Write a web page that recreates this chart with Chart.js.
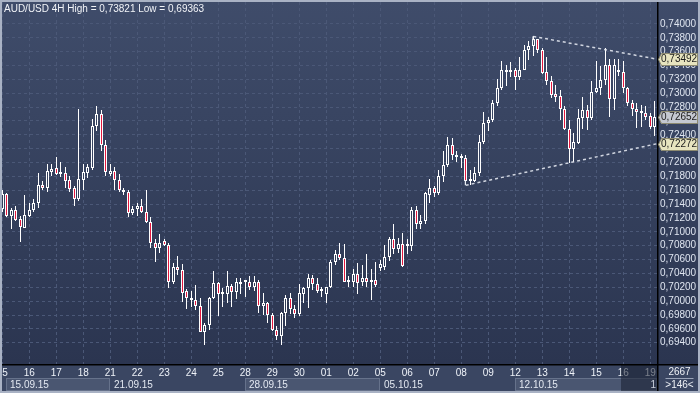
<!DOCTYPE html>
<html>
<head>
<meta charset="utf-8">
<title>AUD/USD 4H</title>
<script src="https://cdn.jsdelivr.net/npm/chart.js@4.4.0/dist/chart.umd.min.js"></script>
<style>
html, body { margin: 0; padding: 0; background: #2e3953; }
#wrap { width: 700px; height: 393px; }
</style>
</head>
<body>
<div id="wrap"><canvas id="candles" width="700" height="393"></canvas></div>
<script>
// day labels, 6 candles (4H) per trading day
var days = ['15','16','17','18','21','22','23','24','25','28','29','30','01','02','05','06','07','08','09','12','13','14','15','16','19'];
var weekLabels = ['15.09.15', '21.09.15', '28.09.15', '05.10.15', '12.10.15'];
var weekStart = [0, 24, 54, 84, 114];
var yTicks = [0.694, 0.696, 0.698, 0.700, 0.702, 0.704, 0.706, 0.708, 0.710, 0.712, 0.714, 0.716,
              0.718, 0.720, 0.722, 0.724, 0.726, 0.728, 0.730, 0.732, 0.734, 0.736, 0.738, 0.740];

var opens = [
 0.7133,0.7155,0.7123,0.7132,0.7119,0.7106, 0.7123,0.7132,0.7141,0.7168,0.7163,0.7187,
 0.7192,0.7184,0.7185,0.7175,0.7163,0.7148, 0.7175,0.7185,0.7192,0.7253,0.7270,0.7226,
 0.7184,0.7188,0.7175,0.7161,0.7157,0.7127, 0.7133,0.7137,0.7128,0.7114,0.7084,0.7076,
 0.7087,0.7081,0.7027,0.7050,0.7045,0.7014, 0.7004,0.7001,0.6993,0.6956,0.6966,0.7004,
 0.7026,0.7010,0.7011,0.7022,0.7013,0.7025, 0.7027,0.7027,0.7021,0.7027,0.6993,0.6998,
 0.6980,0.6958,0.6950,0.6983,0.7004,0.6988, 0.6982,0.7011,0.7019,0.7034,0.7025,0.7014,
 0.7010,0.7020,0.7057,0.7068,0.7062,0.7028, 0.7027,0.7039,0.7027,0.7034,0.7028,0.7031,
 0.7048,0.7049,0.7063,0.7090,0.7075,0.7082, 0.7080,0.7079,0.7132,0.7112,0.7115,0.7153,
 0.7164,0.7156,0.7180,0.7197,0.7225,0.7211, 0.7207,0.7206,0.7173,0.7174,0.7185,0.7229,
 0.7257,0.7261,0.7286,0.7307,0.7330,0.7334, 0.7333,0.7324,0.7334,0.7363,0.7368,0.7378,
 0.7363,0.7330,0.7318,0.7299,0.7296,0.7278, 0.7248,0.7219,0.7228,0.7264,0.7276,0.7265,
 0.7302,0.7307,0.7319,0.7341,0.7291,0.7333, 0.7330,0.7307,0.7286,0.7277,0.7272,0.7271,
 0.7267,0.7251
];
var highs = [
 0.7160,0.7156,0.7135,0.7137,0.7123,0.7153, 0.7142,0.7148,0.7185,0.7173,0.7198,0.7198,
 0.7208,0.7201,0.7194,0.7181,0.7166,0.7277, 0.7198,0.7198,0.7263,0.7282,0.7276,0.7233,
 0.7198,0.7194,0.7184,0.7164,0.7160,0.7137, 0.7142,0.7148,0.7160,0.7122,0.7089,0.7097,
 0.7089,0.7084,0.7055,0.7065,0.7054,0.7017, 0.7014,0.7023,0.7004,0.6969,0.7006,0.7043,
 0.7027,0.7019,0.7044,0.7025,0.7033,0.7033, 0.7031,0.7036,0.7036,0.7031,0.7012,0.6999,
 0.6983,0.6964,0.6985,0.7009,0.7012,0.6994, 0.7025,0.7021,0.7039,0.7038,0.7033,0.7021,
 0.7021,0.7059,0.7074,0.7084,0.7082,0.7036, 0.7046,0.7055,0.7052,0.7068,0.7047,0.7057,
 0.7060,0.7081,0.7092,0.7111,0.7091,0.7098, 0.7089,0.7136,0.7137,0.7124,0.7158,0.7176,
 0.7166,0.7189,0.7216,0.7237,0.7235,0.7216, 0.7213,0.7211,0.7189,0.7194,0.7240,0.7273,
 0.7266,0.7290,0.7320,0.7346,0.7341,0.7345, 0.7337,0.7352,0.7370,0.7376,0.73821,0.7379,
 0.7365,0.7352,0.7325,0.7312,0.7305,0.7281, 0.7261,0.7242,0.7278,0.7294,0.7283,0.7317,
 0.7346,0.7339,0.7365,0.7350,0.7350,0.7349, 0.7346,0.7309,0.7290,0.7286,0.7283,0.7281,
 0.7271,0.7289
];
var lows = [
 0.7129,0.7121,0.7104,0.7116,0.7086,0.7105, 0.7122,0.7129,0.7135,0.7161,0.7157,0.7181,
 0.7182,0.7179,0.7164,0.7158,0.7137,0.7144, 0.7161,0.7178,0.7189,0.7246,0.7216,0.7181,
 0.7181,0.7161,0.7158,0.7153,0.7122,0.7124, 0.7123,0.7127,0.7113,0.7076,0.7057,0.7069,
 0.7080,0.7019,0.7025,0.7038,0.6999,0.6988, 0.6992,0.6987,0.6955,0.69363,0.6958,0.7003,
 0.6978,0.6992,0.6998,0.6991,0.7003,0.7011, 0.7006,0.7016,0.7014,0.6983,0.6980,0.6969,
 0.6957,0.6944,0.6937,0.6964,0.6982,0.6975, 0.6979,0.6997,0.6990,0.7016,0.7012,0.7006,
 0.6997,0.7019,0.7052,0.7059,0.7027,0.7021, 0.7021,0.7010,0.7022,0.7021,0.7002,0.7020,
 0.7043,0.7045,0.7058,0.7068,0.7069,0.7050, 0.7068,0.7072,0.7104,0.7104,0.7111,0.7142,
 0.7150,0.7153,0.7172,0.7194,0.7204,0.7201, 0.7192,0.71672,0.7168,0.7172,0.7180,0.7227,
 0.7245,0.7259,0.7281,0.7305,0.7311,0.7324, 0.7305,0.7319,0.7333,0.7348,0.7354,0.7358,
 0.7328,0.7312,0.7293,0.7288,0.7261,0.7247, 0.7199,0.7201,0.7227,0.7248,0.7247,0.7261,
 0.7301,0.7297,0.7312,0.7266,0.7276,0.7325, 0.7300,0.7282,0.7267,0.7250,0.7252,0.7262,
 0.7248,0.7238
];
var closes = [
 0.7155,0.7123,0.7132,0.7117,0.7107,0.7124, 0.7132,0.7141,0.7168,0.7163,0.7188,0.7191,
 0.7183,0.7185,0.7174,0.7162,0.7148,0.7176, 0.7187,0.7194,0.7253,0.7270,0.7226,0.7187,
 0.7188,0.7175,0.7161,0.7157,0.7127,0.7133, 0.7137,0.7128,0.7114,0.7084,0.7076,0.7084,
 0.7081,0.7027,0.7050,0.7045,0.7012,0.7004, 0.7001,0.6993,0.6956,0.6966,0.7004,0.7026,
 0.7010,0.7012,0.7022,0.7013,0.7027,0.7028, 0.7028,0.7021,0.7027,0.6993,0.6998,0.6980,
 0.6958,0.6950,0.6983,0.7004,0.6988,0.6982, 0.7012,0.7019,0.7034,0.7025,0.7014,0.7017,
 0.7021,0.7057,0.7068,0.7062,0.7028,0.7029, 0.7039,0.7026,0.7034,0.7028,0.7031,0.7023,
 0.7053,0.7063,0.7090,0.7075,0.7082,0.7051, 0.7082,0.7132,0.7112,0.7116,0.7156,0.7164,
 0.7156,0.7180,0.7197,0.7225,0.7211,0.7208, 0.7209,0.7174,0.7176,0.7185,0.7229,0.7257,
 0.7261,0.7286,0.7307,0.7333,0.7334,0.7330, 0.7324,0.7334,0.7363,0.7368,0.7378,0.7363,
 0.7329,0.7317,0.7298,0.7295,0.7278,0.7248, 0.7219,0.7229,0.7264,0.7276,0.7264,0.7302,
 0.7307,0.7319,0.7341,0.7291,0.7341,0.7330, 0.7307,0.7286,0.7277,0.7273,0.7273,0.7266,
 0.7251,0.72652
];

// price tags on the right axis and the two trend lines
var tagValues = [0.73492, 0.72652, 0.72272];
var tagFills = ['#e7e4bf', '#c4c8d0', '#e7e4bf'];
var upperLine = [[118, 0.73821], [145.5, 0.73492]];
var lowerLine = [[103, 0.71672], [145.5, 0.72272]];

var FONT = '"Liberation Sans", Arial, sans-serif';
var FSIZE = 10;
var BEAR = '#e3173e';
var GRID = '#4b5877';

var canvas = document.getElementById('candles');
var ctx = canvas.getContext('2d');
var bgGrad = ctx.createLinearGradient(0, 0, 0, 364);
bgGrad.addColorStop(0, '#3f4c6a');
bgGrad.addColorStop(1, '#2b3550');

var labels = opens.map(function (o, i) { return days[Math.floor(i / 6)]; });
var bodyColors = opens.map(function (o, i) { return closes[i] >= o ? bgGrad : BEAR; });

function fmt(v) { return v.toFixed(5).replace('.', ','); }

var chartDecor = {
    id: 'chartDecor',
    beforeDraw: function (chart) {
        var c = chart.ctx, a = chart.chartArea;
        c.save();
        c.fillStyle = bgGrad;
        c.fillRect(0, 0, chart.width, a.bottom);
        c.fillStyle = '#3a4662';
        c.fillRect(0, a.bottom, chart.width, chart.height - a.bottom);
        c.restore();
    },
    beforeDatasetsDraw: function (chart) {
        // snap candles to the pixel grid so outlines stay crisp
        chart.data.datasets.forEach(function (d, i) {
            chart.getDatasetMeta(i).data.forEach(function (el) {
                el.x = Math.floor(el.x) + 0.5;
                el.y = Math.round(el.y);
                el.base = Math.round(el.base);
            });
        });
    },
    afterDatasetsDraw: function (chart) {
        var c = chart.ctx, a = chart.chartArea, xs = chart.scales.x, ys = chart.scales.y;
        c.save();
        c.beginPath();
        c.rect(a.left, a.top, a.right - a.left, a.bottom - a.top);
        c.clip();
        c.strokeStyle = 'rgba(225,229,238,0.9)';
        [upperLine, lowerLine].forEach(function (ln, k) {
            var x0 = xs.getPixelForValue(ln[0][0]), y0 = ys.getPixelForValue(ln[0][1]);
            var x1 = xs.getPixelForValue(ln[1][0]), y1 = ys.getPixelForValue(ln[1][1]);
            c.lineWidth = 1.5;
            c.setLineDash([3, 3]);
            c.beginPath();
            c.moveTo(x0, y0);
            c.lineTo(x1, y1);
            c.stroke();
            c.setLineDash([]);
            c.lineWidth = 1;
            c.beginPath();
            c.moveTo(x0 - 0.5, y0);
            c.lineTo(x0 - 0.5, k === 0 ? y0 + 5 : y0 - 5);
            c.stroke();
        });
        c.restore();
    },
    afterDraw: function (chart) {
        var c = chart.ctx, a = chart.chartArea, xs = chart.scales.x, ys = chart.scales.y;
        var W = chart.width, H = chart.height;
        c.save();

        // header
        c.font = FSIZE + 'px ' + FONT;
        c.fillStyle = '#f2f4f8';
        c.textBaseline = 'alphabetic';
        c.textAlign = 'left';
        c.fillText('AUD/USD 4H High = 0,73821 Low = 0,69363', 4, 12);

        // week row
        for (var k = 0; k < weekLabels.length; k++) {
            var x0 = xs.getPixelForValue(weekStart[k]);
            var x1 = k + 1 < weekStart.length ? xs.getPixelForValue(weekStart[k + 1]) : a.right;
            if (k === 0) x0 = Math.max(x0, 6);
            x0 = Math.round(x0); x1 = Math.round(x1);
            if (k % 2 === 0) {
                c.fillStyle = '#4a5671';
                c.fillRect(x0, a.bottom + 14, x1 - x0, 13);
                c.strokeStyle = '#66728b';
                c.lineWidth = 1;
                c.strokeRect(x0 + 0.5, a.bottom + 14.5, x1 - x0 - 1, 12);
            }
            c.fillStyle = '#e3e8f1';
            c.textBaseline = 'middle';
            c.fillText(weekLabels[k], x0 + 4, a.bottom + 21);
        }

        // scroller thumb
        var t0 = Math.round(xs.getPixelForValue(137.5));
        c.fillStyle = 'rgba(24,31,48,0.55)';
        c.fillRect(t0, a.bottom + 1, a.right - t0, H - a.bottom - 1);
        c.fillStyle = '#c9d0dc';
        c.textAlign = 'right';
        c.fillText('1', a.right - 1, a.bottom + 21);

        // black separators
        c.strokeStyle = '#000000';
        c.lineWidth = 1.5;
        c.beginPath();
        c.moveTo(a.right + 0.75, 0);
        c.lineTo(a.right + 0.75, H);
        c.moveTo(0, a.bottom + 0.75);
        c.lineTo(W, a.bottom + 0.75);
        c.stroke();

        // counter box bottom right
        var cx = (a.right + W) / 2 + 1;
        c.textAlign = 'center';
        c.fillStyle = '#eef1f6';
        c.fillText('2667', cx, a.bottom + 8);
        c.strokeStyle = '#9aa4b8';
        c.lineWidth = 1;
        c.beginPath();
        c.moveTo(cx - 14, a.bottom + 14.5);
        c.lineTo(cx + 14, a.bottom + 14.5);
        c.stroke();
        c.fillText('>146<', cx, a.bottom + 21);

        // price tags
        c.textAlign = 'left';
        tagValues.forEach(function (v, i) {
            var y = Math.round(ys.getPixelForValue(v)) + 0.5;
            c.fillStyle = tagFills[i];
            c.beginPath();
            c.moveTo(a.right + 1.5, y);
            c.lineTo(a.right + 4.5, y - 6);
            c.lineTo(W - 2.5, y - 6);
            c.lineTo(W - 2.5, y + 6);
            c.lineTo(a.right + 4.5, y + 6);
            c.closePath();
            c.fill();
            c.strokeStyle = '#8d8a70';
            c.lineWidth = 1;
            c.stroke();
            c.fillStyle = '#1b1b1b';
            c.fillText(fmt(v), a.right + 4, y);
        });

        // frame
        c.strokeStyle = '#a9b2c4';
        c.lineWidth = 2;
        c.strokeRect(1, 1, W - 2, H - 2);
        c.restore();
    }
};

var chart = new Chart(canvas, {
    type: 'bar',
    data: {
        labels: labels,
        datasets: [
            {
                label: 'Body',
                data: opens.map(function (o, i) { return [o, closes[i]]; }),
                backgroundColor: bodyColors,
                borderColor: '#ffffff',
                borderWidth: 1,
                borderSkipped: false,
                barThickness: 3,
                minBarLength: 2,
                inflateAmount: 0,
                grouped: false,
                order: 0
            },
            {
                label: 'Wick',
                data: lows.map(function (l, i) { return [l, highs[i]]; }),
                backgroundColor: '#ffffff',
                borderWidth: 0,
                barThickness: 1,
                inflateAmount: 0,
                grouped: false,
                order: 1
            }
        ]
    },
    options: {
        responsive: false,
        animation: false,
        layout: { padding: { left: 0, right: 0, top: 2, bottom: 0 } },
        plugins: {
            legend: { display: false },
            tooltip: { enabled: false }
        },
        scales: {
            x: {
                type: 'category',
                offset: true,
                grid: {
                    offset: false,
                    drawTicks: false,
                    lineWidth: 1,
                    color: function (c) { return c.index % 6 === 0 ? GRID : 'rgba(0,0,0,0)'; }
                },
                border: { display: false, dash: [3, 3] },
                ticks: {
                    autoSkip: false,
                    maxRotation: 0,
                    minRotation: 0,
                    padding: 3,
                    color: '#eef2f8',
                    font: { family: FONT, size: FSIZE },
                    callback: function (val, i) { return i % 6 === 0 ? days[i / 6] : ''; }
                },
                afterFit: function (s) {
                    s.height = 29;
                    s.paddingLeft = 0;
                    s.paddingRight = 0;
                }
            },
            y: {
                type: 'linear',
                position: 'right',
                min: 0.69093,
                max: 0.74317,
                grid: { drawTicks: false, color: GRID, lineWidth: 1 },
                border: { display: false, dash: [3, 3] },
                ticks: {
                    autoSkip: false,
                    padding: 3,
                    color: '#dfe5f0',
                    font: { family: FONT, size: FSIZE },
                    callback: function (v) { return fmt(v); }
                },
                afterBuildTicks: function (s) {
                    s.ticks = yTicks.map(function (v) { return { value: v }; });
                },
                afterFit: function (s) {
                    s.width = 43;
                    s.paddingTop = 0;
                    s.paddingBottom = 0;
                }
            }
        }
    },
    plugins: [chartDecor]
});
</script>
</body>
</html>
